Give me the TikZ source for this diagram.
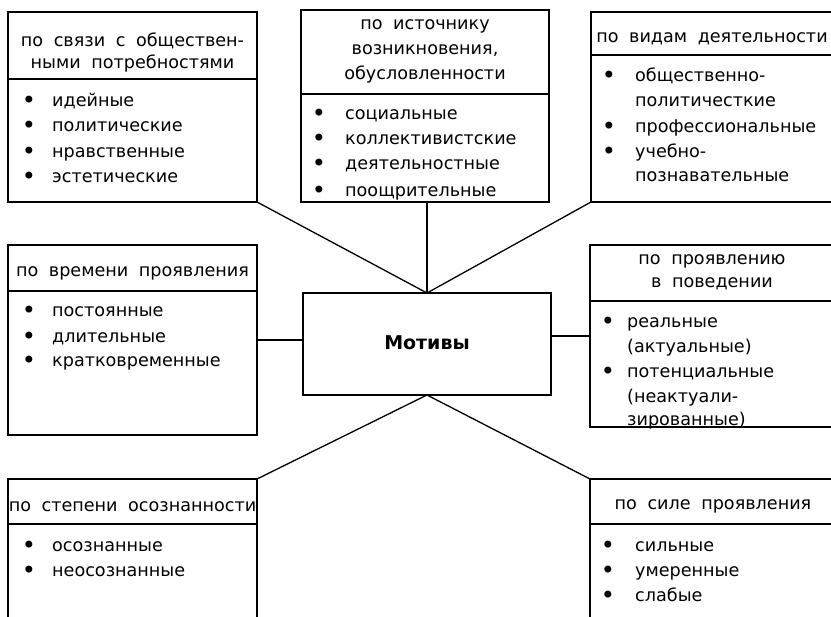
\documentclass[tikz,border=0pt]{standalone}
\usepackage{fontspec}
\setmainfont{DejaVu Sans}
\newcommand\hdrfont{\fontsize{17.6}{20}\selectfont\spaceskip=0.6em\relax}
\newcommand\txtfont{\fontsize{17.6}{20}\selectfont}
\newcommand\bulfont{\fontsize{24}{24}\selectfont}
\begin{document}
\begin{tikzpicture}[x=1pt,y=-1pt,
  box/.style={draw, line width=1.3pt, inner sep=0pt, outer sep=0pt},
  ln/.style={line width=1.3pt},
  txt/.style={anchor=base west, inner sep=0pt, font=\txtfont},
  hdr/.style={anchor=base, inner sep=0pt, font=\hdrfont},
  bul/.style={anchor=center, inner sep=0pt, font=\bulfont},
  ttl/.style={anchor=base, inner sep=0pt, font=\fontsize{19}{22}\selectfont\bfseries}]
\clip (0,0) rectangle (831,617);
% boxes
\node[box, minimum width=249pt, minimum height=190pt] (tl) at (132.5,107) {};
\node[box, minimum width=248pt, minimum height=192pt] (tm) at (425,106) {};
\node[box, minimum width=249pt, minimum height=190pt] (tr) at (715.5,107) {};
\node[box, minimum width=249pt, minimum height=190pt] (ml) at (132.5,340) {};
\node[box, minimum width=248pt, minimum height=102pt] (c) at (427,344) {};
\node[box, minimum width=250pt, minimum height=182pt] (mr) at (715,336) {};
% open boxes at bottom
\coordinate (blne) at (257,479);
\coordinate (blnw) at (8,479);
\coordinate (brnw) at (590,479);
\coordinate (brne) at (840,479);
\draw[ln] (8,640) -- (blnw) -- (blne) -- (257,640);
\draw[ln] (840,640) -- (brne) -- (brnw) -- (590,640);
% dividers
\draw[ln] (8,79) -- (257,79);
\draw[ln] (301,94) -- (549,94);
\draw[ln] (591,55) -- (840,55);
\draw[ln] (8,291) -- (257,291);
\draw[ln] (590,301) -- (840,301);
\draw[ln] (8,524) -- (257,524);
\draw[ln] (590,524) -- (840,524);
% connectors
\draw[ln] (tl.south east) -- (c.north);
\draw[ln] (c.north |- tm.south) -- (c.north);
\draw[ln] (tr.south west) -- (c.north);
\draw[ln] (ml.east) -- (c.west |- ml.east);
\draw[ln] (mr.west) -- (c.east |- mr.west);
\draw[ln] (blne) -- (c.south);
\draw[ln] (brnw) -- (c.south);
% center
\node[ttl] (ct) at (427,350) {Мотивы};
% top-left
\node[hdr] (h1a) at (132.5,47) {по связи с обществен-};
\node[hdr] (h1b) at (132.5,69) {ными потребностями};
\foreach \y/\t [count=\i] in {107/идейные,132/политические,158/нравственные,183/эстетические}{
  \node[bul] (b1\i) at (29,\y-4.5) {•};
  \node[txt] (t1\i) at (52,\y) {\t};
}
% top-middle
\node[hdr] (h2a) at (425,30) {по источнику};
\node[hdr] (h2b) at (425,55) {возникновения,};
\node[hdr] (h2c) at (425,80) {обусловленности};
\foreach \y/\t [count=\i] in {120/социальные,145/коллективистские,170/деятельностные,197/поощрительные}{
  \node[bul] (b2\i) at (319,\y-4.5) {•};
  \node[txt] (t2\i) at (345,\y) {\t};
}
% top-right
\node[hdr] (h3a) at (712,43) {по видам деятельности};
\node[bul] (b31) at (609,77.5) {•};
\node[txt] (t31) at (635,82) {общественно-};
\node[txt] (t32) at (635,107) {политичесткие};
\node[bul] (b33) at (609,128.5) {•};
\node[txt] (t33) at (635,133) {профессиональные};
\node[bul] (b34) at (609,153.5) {•};
\node[txt] (t34) at (635,158) {учебно-};
\node[txt] (t35) at (635,182) {познавательные};
% middle-left
\node[hdr] (h4a) at (132.5,277) {по времени проявления};
\foreach \y/\t [count=\i] in {317/постоянные,343/длительные,367/кратковременные}{
  \node[bul] (b4\i) at (29,\y-4.5) {•};
  \node[txt] (t4\i) at (52,\y) {\t};
}
% middle-right
\node[hdr] (h5a) at (712,265) {по проявлению};
\node[hdr] (h5b) at (712,288) {в поведении};
\node[bul] (b51) at (608,323.5) {•};
\node[txt] (t51) at (627,328) {реальные};
\node[txt] (t52) at (627,353) {(актуальные)};
\node[bul] (b53) at (608,373.5) {•};
\node[txt] (t53) at (627,378) {потенциальные};
\node[txt] (t54) at (627,403) {(неактуали-};
\node[txt] (t55) at (627,426) {зированные)};
% bottom-left
\node[hdr] (h6a) at (132.5,512) {по степени осознанности};
\foreach \y/\t [count=\i] in {552/осознанные,577/неосознанные}{
  \node[bul] (b6\i) at (29,\y-4.5) {•};
  \node[txt] (t6\i) at (52,\y) {\t};
}
% bottom-right
\node[hdr] (h7a) at (713,510) {по силе проявления};
\foreach \y/\t [count=\i] in {552/сильные,577/умеренные,602/слабые}{
  \node[bul] (b7\i) at (608,\y-4.5) {•};
  \node[txt] (t7\i) at (635,\y) {\t};
}
\end{tikzpicture}
\end{document}
